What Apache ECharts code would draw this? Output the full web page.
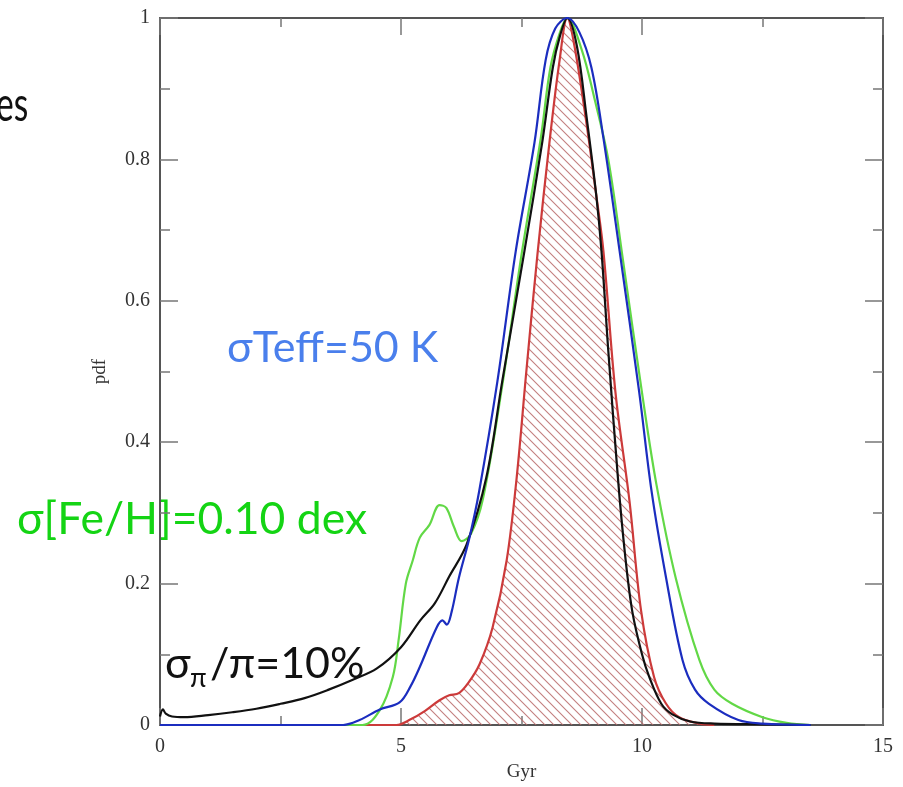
<!DOCTYPE html>
<html>
<head>
<meta charset="utf-8">
<script src="https://cdn.jsdelivr.net/npm/echarts@6/dist/echarts.min.js"></script>
<style>
  html, body { margin: 0; padding: 0; background: #fff; }
  #chart { width: 903px; height: 787px; }
</style>
</head>
<body>
<div id="chart"></div>
<script>
// age pdfs (Gyr, pdf)
const redX = [0, 4.9, 5.2, 5.5, 5.8, 6.0, 6.2, 6.4, 6.63, 6.9, 7.19, 7.4, 7.6, 7.83, 8.08, 8.29, 8.45, 8.6, 8.85, 9.05, 9.2, 9.45, 9.74, 9.98, 10.25, 10.5, 10.77, 11.2, 11.5]
const redY = [0, 0, 0.008, 0.02, 0.035, 0.042, 0.045, 0.06, 0.086, 0.138, 0.232, 0.35, 0.5, 0.665, 0.824, 0.94, 1.0, 0.96, 0.85, 0.75, 0.67, 0.47, 0.317, 0.162, 0.068, 0.03, 0.011, 0.002, 0]

const blackX = [0, 0.06, 0.12, 0.25, 0.5, 1.0, 1.5, 2.0, 2.5, 3.0, 3.5, 4.0, 4.5, 5.0, 5.4, 5.7, 6.0, 6.36, 6.77, 7.1, 7.56, 7.93, 8.15, 8.3, 8.45, 8.65, 8.85, 9.05, 9.16, 9.3, 9.5, 9.65, 9.8, 10.0, 10.15, 10.4, 10.63, 11.0, 11.5, 12.5, 13.5]
const blackY = [0.012, 0.022, 0.016, 0.012, 0.011, 0.014, 0.018, 0.023, 0.03, 0.038, 0.05, 0.064, 0.08, 0.11, 0.148, 0.172, 0.21, 0.255, 0.35, 0.486, 0.67, 0.824, 0.93, 0.975, 1.0, 0.96, 0.86, 0.75, 0.67, 0.53, 0.35, 0.24, 0.16, 0.1, 0.068, 0.03, 0.015, 0.005, 0.002, 0.001, 0]

const blueX = [0, 3.8, 4.14, 4.56, 4.97, 5.2, 5.39, 5.74, 5.86, 5.95, 6.05, 6.2, 6.42, 6.62, 7.0, 7.38, 7.77, 8.0, 8.2, 8.45, 8.7, 8.95, 9.2, 9.53, 9.94, 10.2, 10.5, 10.84, 11.1, 11.39, 12.0, 12.5, 13.5]
const blueY = [0, 0, 0.007, 0.022, 0.032, 0.055, 0.082, 0.138, 0.148, 0.142, 0.16, 0.208, 0.265, 0.33, 0.486, 0.67, 0.824, 0.94, 0.985, 1.0, 0.98, 0.93, 0.83, 0.673, 0.472, 0.33, 0.208, 0.092, 0.05, 0.03, 0.007, 0.002, 0]

const greenX = [0, 4.2, 4.56, 4.83, 4.95, 5.1, 5.24, 5.39, 5.59, 5.8, 5.94, 6.1, 6.26, 6.45, 6.7, 7.1, 7.5, 7.9, 8.1, 8.3, 8.45, 8.75, 9.0, 9.3, 9.6, 10.0, 10.3, 10.7, 11.19, 11.5, 11.87, 12.5, 13.0, 13.5]
const greenY = [0, 0, 0.021, 0.068, 0.12, 0.2, 0.232, 0.265, 0.283, 0.311, 0.307, 0.28, 0.26, 0.27, 0.32, 0.48, 0.665, 0.83, 0.93, 0.98, 1.0, 0.955, 0.89, 0.8, 0.66, 0.47, 0.34, 0.208, 0.092, 0.05, 0.03, 0.011, 0.003, 0]

const xTicks = [0, 5, 10, 15]
const yTicks = [0, 0.2, 0.4, 0.6, 0.8, 1]

const pairs = (xs, ys) => xs.map((x, i) => [x, ys[i]])

// diagonal hatch for the red area
function hatch () {
  const s = 9
  const c = document.createElement('canvas')
  c.width = s
  c.height = s
  const ctx = c.getContext('2d')
  ctx.strokeStyle = 'rgba(185,105,105,0.85)'
  ctx.lineWidth = 1.1
  ctx.beginPath()
  ctx.moveTo(-1, -1); ctx.lineTo(s + 1, s + 1)
  ctx.moveTo(-1, s - 1); ctx.lineTo(1, s + 1)
  ctx.moveTo(s - 1, -1); ctx.lineTo(s + 1, 1)
  ctx.stroke()
  return c
}

const frame = { show: true, onZero: false, lineStyle: { color: '#555', width: 2 } }
const serif = '"Liberation Serif", "DejaVu Serif", serif'

function xAxisCfg (pos, labels) {
  return {
    type: 'value', position: pos, min: 0, max: 15, interval: 5,
    axisLine: frame,
    axisTick: { inside: true, length: 17, lineStyle: { color: '#777', width: 1.5 } },
    minorTick: { show: true, splitNumber: 2, length: 9, lineStyle: { color: '#777', width: 1.5 } },
    splitLine: { show: false },
    axisLabel: { show: labels, fontFamily: serif, fontSize: 20, color: '#333', margin: 12,
      customValues: xTicks },
    name: labels ? 'Gyr' : '', nameLocation: 'middle', nameGap: 38,
    nameTextStyle: { fontFamily: serif, fontSize: 19, color: '#333' }
  }
}
function yAxisCfg (pos, labels) {
  return {
    type: 'value', position: pos, min: 0, max: 1, interval: 0.2,
    axisLine: frame,
    axisTick: { inside: true, length: 18, lineStyle: { color: '#777', width: 1.5 } },
    minorTick: { show: true, splitNumber: 2, length: 10, lineStyle: { color: '#777', width: 1.5 } },
    splitLine: { show: false },
    axisLabel: { show: labels, fontFamily: serif, fontSize: 20, color: '#333', margin: 10,
      customValues: yTicks },
    name: labels ? 'pdf' : '', nameLocation: 'middle', nameGap: 50,
    nameTextStyle: { fontFamily: serif, fontSize: 19, color: '#333' }
  }
}

const line = (name, data, color, z) => ({
  name, type: 'line', data, smooth: 0.35, showSymbol: false, z,
  lineStyle: { color, width: 2.2 }
})

const sans = 'Lato, "Noto Sans", sans-serif'
const chart = echarts.init(document.getElementById('chart'))
chart.setOption({
  animation: false,
  backgroundColor: '#fff',
  grid: { left: 160, right: 20, top: 18, bottom: 59 },
  xAxis: [xAxisCfg('bottom', true), xAxisCfg('top', false)],
  yAxis: [yAxisCfg('left', true), yAxisCfg('right', false)],
  series: [
    Object.assign(line('red', pairs(redX, redY), '#cc3a3a', 2), {
      areaStyle: { color: { image: hatch(), repeat: 'repeat' }, opacity: 1 }
    }),
    line('green', pairs(greenX, greenY), '#62d846', 3),
    line('black', pairs(blackX, blackY), '#111111', 4),
    line('blue', pairs(blueX, blueY), '#1b2dbf', 5)
  ],
  graphic: [
    { type: 'text', x: -4, y: 106, scaleX: 0.7,
      style: { text: 'es', font: '48px ' + sans, fill: '#111', verticalAlign: 'middle' } },
    { type: 'text', x: 227, y: 348,
      style: { text: 'σTeff=50 K', font: '43px ' + sans, fill: '#4a7fec', verticalAlign: 'middle' } },
    { type: 'text', x: 17, y: 520,
      style: { text: 'σ[Fe/H]=0.10 dex', font: '44.5px ' + sans, fill: '#14d414', verticalAlign: 'middle' } },
    { type: 'text', x: 165, y: 664,
      style: { text: 'σ', font: '43px ' + sans, fill: '#111', verticalAlign: 'middle' } },
    { type: 'text', x: 190, y: 678,
      style: { text: 'π', font: '27px ' + sans, fill: '#111', verticalAlign: 'middle' } },
    { type: 'text', x: 210, y: 664,
      style: { text: '/π=10%', font: '43px ' + sans, fill: '#111', verticalAlign: 'middle' } }
  ]
})
</script>
</body>
</html>
